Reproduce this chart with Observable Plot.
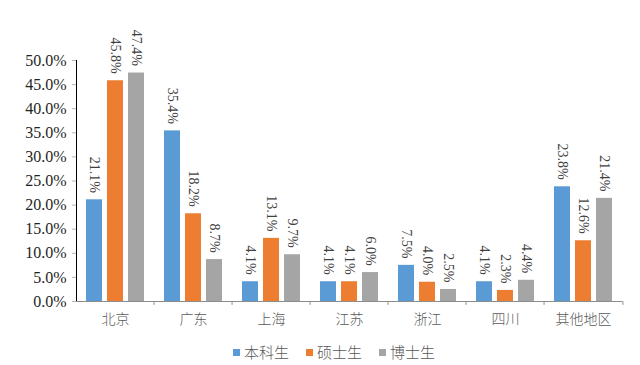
<!DOCTYPE html>
<html>
<head>
<meta charset="utf-8">
<script src="https://cdn.jsdelivr.net/npm/d3@7"></script>
<script src="https://cdn.jsdelivr.net/npm/@observablehq/plot@0.6"></script>
<style>
  body { margin: 0; background: #fff; }
  #chart svg { display: block; overflow: visible; }
  [aria-label^="y-axis"] text { font-family: "Liberation Serif", serif; font-size: 16px; fill: #1f1f1f; }
  [aria-label^="y-axis"] path, [aria-label^="y-axis"] line { stroke: #b5b5b5; }
  [aria-label^="fx-axis"] text { font-family: "Noto Sans CJK SC", sans-serif; font-weight: 300; font-size: 14px; fill: #595959; }
  #legend { display: flex; gap: 17px; padding-left: 233px; margin-top: 8px;
            font-family: "Noto Sans CJK SC", sans-serif; font-weight: 300; font-size: 15px; color: #595959; line-height: 18px; }
  #legend .item { display: flex; align-items: center; }
  #legend .sw { width: 7px; height: 7px; margin-right: 4px; }
</style>
</head>
<body>
<div id="chart"></div>
<div id="legend"></div>
<script>
const regions = ["北京", "广东", "上海", "江苏", "浙江", "四川", "其他地区"];
const seriesNames = ["本科生", "硕士生", "博士生"];
const undergrad = [21.1, 35.4, 4.1, 4.1, 7.5, 4.1, 23.8];
const master    = [45.8, 18.2, 13.1, 4.1, 4.0, 2.3, 12.6];
const doctor    = [47.4, 8.7, 9.7, 6.0, 2.5, 4.4, 21.4];
const colors = ["#5B9BD5", "#ED7D31", "#A5A5A5"];
const yTicks = [0, 5, 10, 15, 20, 25, 30, 35, 40, 45, 50];

const seriesValues = [undergrad, master, doctor];
const rows = regions.flatMap((r, i) =>
  seriesNames.map((s, j) => ({region: r, series: s, value: seriesValues[j][i]})));

const W = 640, ML = 73, MR = 15;
const facetW = (W - ML - MR) / regions.length;

const chart = Plot.plot({
  width: W,
  height: 335,
  marginLeft: ML,
  marginRight: MR,
  marginTop: 60,
  marginBottom: 34,
  fx: {domain: regions, padding: 0, label: null, axis: "bottom", tickSize: 0, tickPadding: 13},
  x: {domain: seriesNames, axis: null, paddingInner: 0.23, paddingOuter: 0.41},
  y: {domain: [0, 50], ticks: yTicks, tickFormat: d => d.toFixed(1) + "%", label: null,
      tickSize: 4, tickPadding: 6, line: true},
  color: {domain: seriesNames, range: colors},
  marks: [
    Plot.barY(rows, {fx: "region", x: "series", y: "value", fill: "series"}),
    Plot.text(rows, {fx: "region", x: "series", y: "value",
      text: d => d.value.toFixed(1) + "%", rotate: 90, textAnchor: "end", lineAnchor: "middle",
      dy: -7, fontSize: 14, fontFamily: "Liberation Serif", fill: "#404040"}),
    Plot.ruleY([0], {stroke: "#8c8c8c"}),
    Plot.ruleX(regions.slice(1), {fx: d => d, x: null, y1: 0, y2: -0.8, dx: -facetW / 2, stroke: "#8c8c8c"}),
    Plot.ruleX(regions.slice(-1), {fx: d => d, x: null, y1: 0, y2: -0.8, dx: facetW / 2, stroke: "#8c8c8c"})
  ]
});
document.getElementById("chart").append(chart);

const legend = document.getElementById("legend");
seriesNames.forEach((s, i) => {
  const item = document.createElement("div");
  item.className = "item";
  const sw = document.createElement("span");
  sw.className = "sw";
  sw.style.background = colors[i];
  item.append(sw, document.createTextNode(s));
  legend.append(item);
});
</script>
</body>
</html>
